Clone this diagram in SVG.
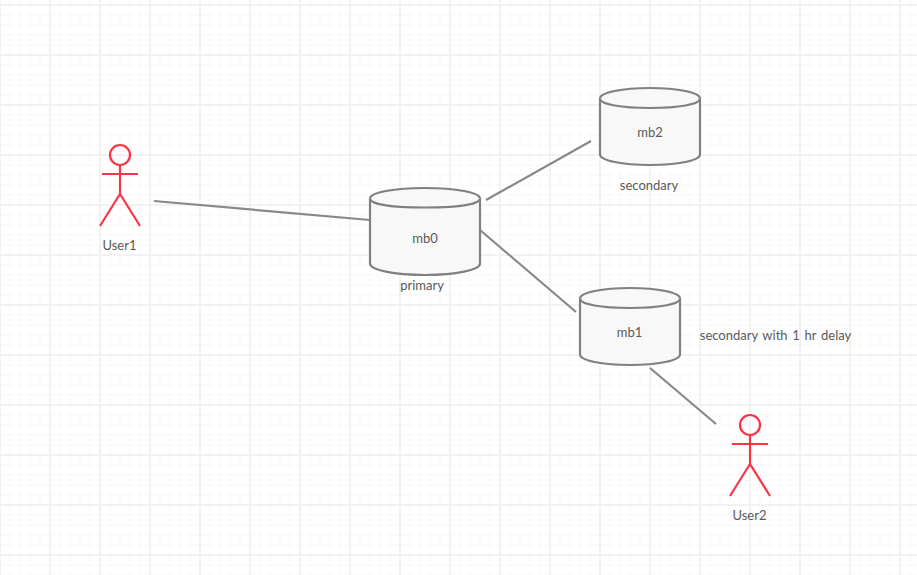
<svg xmlns="http://www.w3.org/2000/svg" width="917" height="575" viewBox="0 0 917 575">
  <defs>
    <pattern id="grid" width="50" height="50" patternUnits="userSpaceOnUse" x="0" y="5">
      <path d="M10 0V50M20 0V50M30 0V50M40 0V50M0 10H50M0 20H50M0 30H50M0 40H50" fill="none" stroke="#fbfbfb" stroke-width="2"/>
      <path d="M0 0V50M50 0V50M0 0H50M0 50H50" fill="none" stroke="#f2f2f2" stroke-width="2"/>
    </pattern>
    <g id="actor" class="actor">
      <circle cx="0" cy="10" r="10"/>
      <path d="M0 20V50M-18 29H18M-20 81L0 49L20 81"/>
    </g>
    <g id="can" class="can">
      <path d="M-50 -28V28C-50 34 -28 38.500 0 38.500S50 34 50 28V-28C50 -34 28 -38.500 0 -38.500S-50 -34 -50 -28Z"/>
      <path d="M-50 -28C-50 -22 -28 -18.500 0 -18.500S50 -22 50 -28" fill="none"/>
    </g>
    <g id="can-large" class="can">
      <path d="M-55 -33V32C-55 38.500 -31 43.500 0 43.500S55 38.500 55 32V-33C55 -39 31 -43.500 0 -43.500S-55 -39 -55 -33Z"/>
      <path d="M-55 -33C-55 -27 -31 -24 0 -24S55 -27 55 -33" fill="none"/>
    </g>
  </defs>
  <style>
    text { font-family: Lato, "Liberation Sans", sans-serif; font-size: 13px; fill: #5a5a5a; text-anchor: middle; }
    .actor circle, .actor path { fill: none; stroke: #fa3445; stroke-width: 2.200; stroke-linecap: butt; }
    .can path { fill: #f8f8f8; stroke: #808080; stroke-width: 2.200; }
    .link { fill: none; stroke: #888; stroke-width: 2.200; }
    .spaced { word-spacing: 1.400px; }
  </style>

  <rect width="917" height="575" fill="#fff"/>
  <rect width="917" height="575" fill="url(#grid)"/>

  <g id="connectors">
    <path class="link" d="M154 201L370 220"/>
    <path class="link" d="M486 200L591 141"/>
    <path class="link" d="M480 230L576 312"/>
    <path class="link" d="M650 368L716 424"/>
  </g>

  <g id="user1">
    <use href="#actor" x="120" y="145"/>
    <text x="119.500" y="250">User1</text>
  </g>
  <g id="user2">
    <use href="#actor" x="750" y="415"/>
    <text x="749.500" y="520">User2</text>
  </g>
  <g id="mb0">
    <use href="#can-large" x="425" y="231.500"/>
    <text x="425" y="243">mb0</text>
    <text x="422" y="290">primary</text>
  </g>
  <g id="mb2">
    <use href="#can" x="650" y="126.500"/>
    <text x="650" y="137">mb2</text>
    <text x="649" y="190">secondary</text>
  </g>
  <g id="mb1">
    <use href="#can" x="630" y="326.500"/>
    <text x="629.500" y="337">mb1</text>
    <text class="spaced" x="775.500" y="340">secondary with 1 hr delay</text>
  </g>
</svg>
